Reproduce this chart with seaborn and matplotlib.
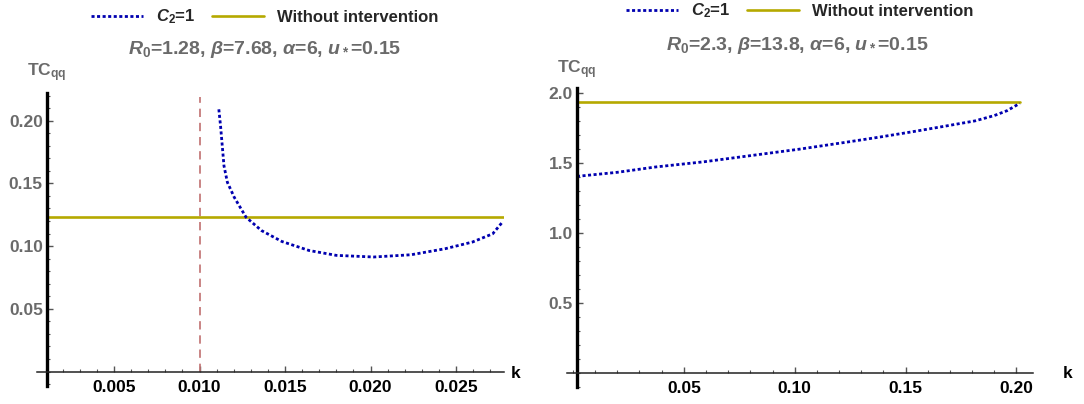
import numpy as np
import pandas as pd
import seaborn as sns
import matplotlib.pyplot as plt
from matplotlib.lines import Line2D
from matplotlib.ticker import FixedLocator, MultipleLocator, FormatStrFormatter

# left panel: R0=1.28
k_left = [0.01113, 0.01123, 0.01133, 0.01143, 0.01163, 0.01203, 0.01272, 0.01362,
          0.01481, 0.01640, 0.01800, 0.02018, 0.02237, 0.02436, 0.02595, 0.02714, 0.02770]
tc_left = [0.2090, 0.1958, 0.1799, 0.1640, 0.1508, 0.1389, 0.1230, 0.1124,
           0.1037, 0.0965, 0.0926, 0.0913, 0.0931, 0.0979, 0.1032, 0.1098, 0.1190]
base_left = 0.123
kline_left = [0.00108, 0.0278]
k_vline = 0.010

# right panel: R0=2.3
k_right = [0.0018, 0.0200, 0.0372, 0.0590, 0.0805, 0.1020, 0.1237, 0.1381,
           0.1525, 0.1669, 0.1813, 0.1900, 0.1958, 0.2015]
tc_right = [1.404, 1.433, 1.471, 1.508, 1.553, 1.598, 1.649, 1.684,
            1.721, 1.760, 1.800, 1.838, 1.873, 1.925]
base_right = 1.935
kline_right = [0.0018, 0.2015]

sns.set_style("ticks")
plt.rcParams['font.family'] = ['Liberation Sans', 'DejaVu Sans']
plt.rcParams['font.weight'] = 'bold'
plt.rcParams['mathtext.fontset'] = 'custom'
plt.rcParams['mathtext.rm'] = 'Liberation Sans:bold'
plt.rcParams['mathtext.it'] = 'Liberation Sans:bold:italic'
plt.rcParams['mathtext.bf'] = 'Liberation Sans:bold'

W, H = 1084, 404
fig = plt.figure(figsize=(W / 100, H / 100), dpi=100)

BLUE = '#0000B0'
OLIVE = '#B5A900'
GRAY = '#6A6A6A'
dots = (0, (1.1, 0.9))


def box(x0, x1, ytop, ybot):
    return [x0 / W, 1 - ybot / H, (x1 - x0) / W, (ybot - ytop) / H]


def style_axes(ax, x0, xlim, ylim, xmaj, xmin, ymaj, ymin, xfmt, yfmt):
    ax.set_xlim(*xlim)
    ax.set_ylim(*ylim)
    for s in ['top', 'right']:
        ax.spines[s].set_visible(False)
    ax.spines['left'].set_position(('data', x0))
    ax.spines['bottom'].set_position(('data', 0))
    ax.spines['left'].set_linewidth(2.4)
    ax.spines['left'].set_color('black')
    ax.spines['bottom'].set_linewidth(1.1)
    ax.spines['bottom'].set_color('#222222')
    ax.xaxis.set_major_locator(FixedLocator(xmaj))
    ax.xaxis.set_minor_locator(MultipleLocator(xmin))
    ax.yaxis.set_major_locator(FixedLocator(ymaj))
    ax.yaxis.set_minor_locator(MultipleLocator(ymin))
    ax.xaxis.set_major_formatter(FormatStrFormatter(xfmt))
    ax.yaxis.set_major_formatter(FormatStrFormatter(yfmt))
    ax.tick_params(axis='both', which='both', bottom=True, left=True,
                   top=False, right=False)
    ax.tick_params(axis='both', which='major', direction='in', length=4.5, width=1,
                   labelsize=12.5, color='#555555', pad=6)
    ax.tick_params(axis='both', which='minor', direction='in', length=2.5, width=0.8,
                   color='#555555')
    ax.tick_params(axis='y', labelcolor=GRAY, pad=3)
    ax.tick_params(axis='x', labelcolor='black')
    for t in ax.get_xticklabels() + ax.get_yticklabels():
        t.set_fontweight('bold')
    ax.set_xlabel('')
    ax.set_ylabel('')
    ax.patch.set_alpha(0)


# ---- left
ax1 = fig.add_axes(box(37, 504, 93, 386))
ax1.plot([k_vline, k_vline], [0, 0.219], color='#C07070',
         linewidth=1.2, linestyle=(0, (5, 3.5)))
sns.lineplot(x=kline_left, y=[base_left] * 2, ax=ax1, color=OLIVE, linewidth=1.9,
             estimator=None)
sns.lineplot(x=k_left, y=tc_left, ax=ax1, color=BLUE, linewidth=2.0,
             linestyle=dots, sort=False, estimator=None)
style_axes(ax1, 0.00108, (0.0005, 0.0278), (-0.0115, 0.222),
           [0.005, 0.010, 0.015, 0.020, 0.025], 0.001,
           [0.05, 0.10, 0.15, 0.20], 0.01, '%.3f', '%.2f')

# ---- right
ax2 = fig.add_axes(box(567, 1033, 88, 387))
sns.lineplot(x=kline_right, y=[base_right] * 2, ax=ax2, color=OLIVE, linewidth=1.9,
             estimator=None)
sns.lineplot(x=k_right, y=tc_right, ax=ax2, color=BLUE, linewidth=2.0,
             linestyle=dots, sort=False, estimator=None)
style_axes(ax2, 0.0018, (-0.0027, 0.2075), (-0.10, 2.035),
           [0.05, 0.10, 0.15, 0.20], 0.01,
           [0.5, 1.0, 1.5, 2.0], 0.1, '%.2f', '%.1f')

# axis labels
fig.text(47 / W, 1 - 73 / H, r'TC$_{\mathrm{qq}}$', color=GRAY, fontsize=12.5,
         fontweight='bold', ha='center', va='center')
fig.text(577 / W, 1 - 70 / H, r'TC$_{\mathrm{qq}}$', color=GRAY, fontsize=12.5,
         fontweight='bold', ha='center', va='center')
fig.text(516 / W, 1 - 373 / H, 'k', color='black', fontsize=12.5,
         fontweight='bold', ha='center', va='center')
fig.text(1068 / W, 1 - 373 / H, 'k', color='black', fontsize=12.5,
         fontweight='bold', ha='center', va='center')

# titles
fig.text(265 / W, 1 - 50 / H, r'$R_0$=1.28, $\beta$=7.68, $\alpha$=6, $u_*$=0.15',
         color=GRAY, fontsize=14, fontweight='bold', ha='center', va='center')
fig.text(797 / W, 1 - 45 / H, r'$R_0$=2.3, $\beta$=13.8, $\alpha$=6, $u_*$=0.15',
         color=GRAY, fontsize=14, fontweight='bold', ha='center', va='center')

# legends
handles = [Line2D([], [], color=BLUE, linewidth=2.0, linestyle=dots),
           Line2D([], [], color=OLIVE, linewidth=1.9)]
labels = [r'$C_2$=1', 'Without intervention']
for cx, cy in [(265, 17), (800, 11)]:
    fig.legend(handles, labels, loc='center', bbox_to_anchor=(cx / W, 1 - cy / H),
               ncol=2, frameon=False, handlelength=3.1,
               handletextpad=0.8, columnspacing=1.0,
               prop={'weight': 'bold', 'size': 12})

fig.savefig('out.png', dpi=100)
